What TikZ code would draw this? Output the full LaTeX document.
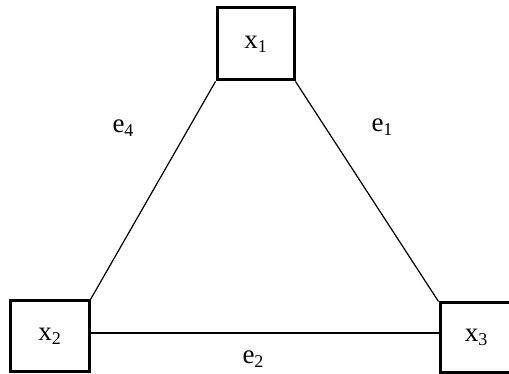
\documentclass[tikz,border=0pt]{standalone}
\usepackage{fontspec}
\setmainfont{Liberation Serif}
\newcommand\mysub[1]{\raisebox{-0.35ex}{\fontsize{18}{20}\selectfont #1}}
\begin{document}
\begin{tikzpicture}[x=1pt,y=-1pt,
  vbox/.style={draw,line width=3pt,inner sep=0pt,font=\fontsize{27}{29}\selectfont},
  edge/.style={line width=1.2pt},
  lbl/.style={font=\fontsize{27}{29}\selectfont,inner sep=0pt}]
\useasboundingbox (0,0) rectangle (509,374);
\clip (0,0) rectangle (509,374);
\node[vbox,minimum width=77pt,minimum height=72pt] (x1) at (255.5,44) {x\mysub{1}};
\node[vbox,minimum width=79pt,minimum height=70pt] (x2) at (49.5,336) {x\mysub{2}};
\node[vbox,minimum width=72pt,minimum height=69pt] (x3) at (476,337.5) {x\mysub{3}};
\draw[edge] (x1.south west) -- (x2.north east);
\draw[edge] (x1.south east) -- (x3.north west);
\draw[line width=2pt] ([yshift=3pt]x2.east) -- ([yshift=4.5pt]x3.west);
\node[lbl] (e4) at (123,128) {e\mysub{4}};
\node[lbl] (e1) at (382,127) {e\mysub{1}};
\node[lbl] (e2) at (253,359) {e\mysub{2}};
\end{tikzpicture}
\end{document}
